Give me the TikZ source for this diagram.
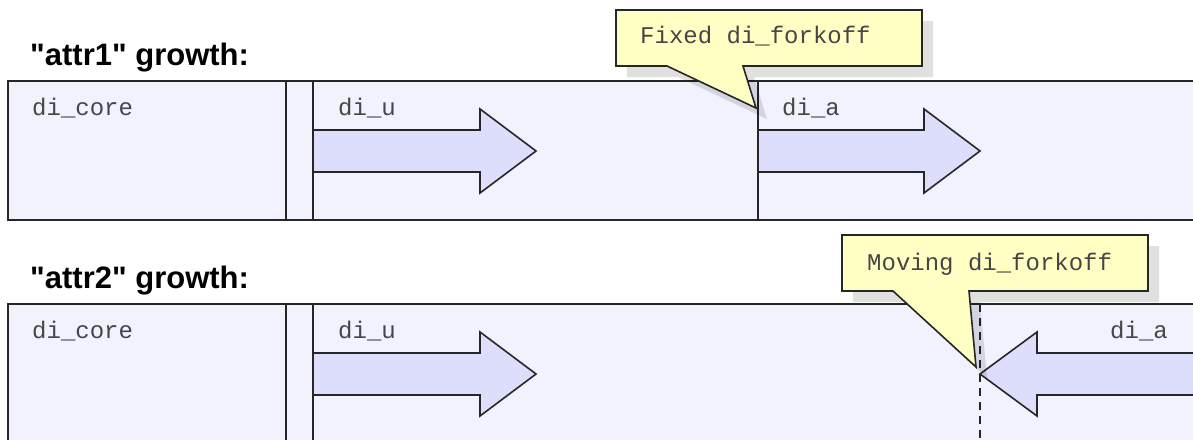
\documentclass[tikz,border=0pt]{standalone}
\usepackage{fontspec}
\setmonofont{Liberation Mono}
\newfontfamily\headfont{Liberation Sans}
\usetikzlibrary{calc}
\definecolor{blockfill}{RGB}{242,242,255}
\definecolor{arrowfill}{RGB}{221,221,252}
\definecolor{notefill}{RGB}{255,255,196}
\definecolor{inkgray}{RGB}{70,70,70}
\tikzset{%
  myblock/.style={draw=black!85, fill=blockfill, line width=1.6pt},
  mycell/.style={draw=black!85, line width=1.6pt},
  myarrow/.style={draw=black!85, fill=arrowfill, line width=1.6pt, line join=miter},
  mynote/.style={draw=black!85, fill=notefill, line width=1.6pt},
  myshadow/.style={fill=black, opacity=0.12},
  mylabel/.style={anchor=base west, inner sep=0pt, text=inkgray, font=\ttfamily\fontsize{24}{28}\selectfont},
  myhead/.style={anchor=base west, inner sep=0pt, font=\headfont\bfseries\fontsize{31}{35}\selectfont}
}

\begin{document}
\begin{tikzpicture}[x=1pt, y=-1pt]
  \clip (0,0) rectangle (1193,439);
  \fill [white] (0,0) rectangle (1193,439);

% the two layouts share the same left part
\foreach \r/\dy in {1/0, 2/223} {
  \node [myhead] (head\r) at (30, 65+\dy) {"attr\r" growth:};
  \draw [myblock] (8, 81+\dy) rectangle (1210, 220+\dy);
  \draw [mycell] (286, 81+\dy) -- (286, 220+\dy);
  \draw [mycell] (313, 81+\dy) -- (313, 220+\dy);
  \node [mylabel] (core\r) at (32, 115+\dy) {di\_core};
  \node [mylabel] (u\r) at (338, 115+\dy) {di\_u};
  \draw [myarrow] (313, 130+\dy) -- (480, 130+\dy) -- (480, 109+\dy) -- (536, 151+\dy)
        -- (480, 193+\dy) -- (480, 172+\dy) -- (313, 172+\dy) -- cycle;
}

% attr1: di_a starts at a fixed offset
\draw [mycell] (758, 81) -- (758, 220);
\node [mylabel] (a1) at (782, 115) {di\_a};
\draw [myarrow] (758, 130) -- (924, 130) -- (924, 109) -- (980, 151)
      -- (924, 193) -- (924, 172) -- (758, 172) -- cycle;

% attr2: di_a grows from the end
\draw [myarrow] (1210, 353) -- (1037, 353) -- (1037, 332) -- (980, 374)
      -- (1037, 416) -- (1037, 395) -- (1210, 395);
\draw [mycell, line width=1.5pt, dash pattern=on 8pt off 6pt] (980, 304) -- (980, 450);
\node [mylabel] (a2) at (1110, 338) {di\_a};

% notes
\foreach \nx/\ny/\px/\tx/\ty in {616/10/667/756/108, 842/235/893/976/367} {
  \fill [myshadow, shift={(11,11)}] (\nx, \ny) -- ++(306, 0) -- ++(0, 56) -- (\px+76, \ny+56)
        -- (\tx, \ty) -- (\px, \ny+56) -- (\nx, \ny+56) -- cycle;
  \draw [mynote] (\nx, \ny) -- ++(306, 0) -- ++(0, 56) -- (\px+76, \ny+56)
        -- (\tx, \ty) -- (\px, \ny+56) -- (\nx, \ny+56) -- cycle;
}
\node [mylabel] (fixed) at (640, 43) {Fixed di\_forkoff};
\node [mylabel] (moving) at (867, 270) {Moving di\_forkoff};

\end{tikzpicture}
\end{document}
